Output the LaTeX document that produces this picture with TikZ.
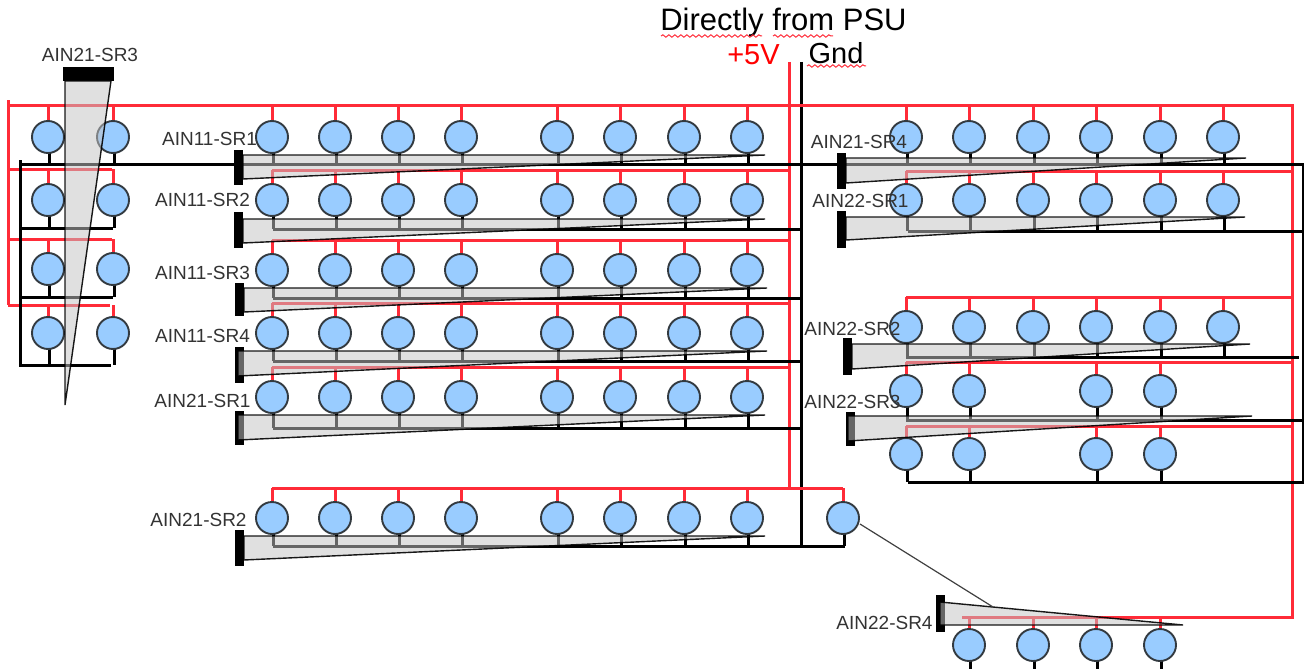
\documentclass[tikz,border=0pt]{standalone}
\usepackage{fontspec}
\setmainfont{Liberation Sans}
\usetikzlibrary{decorations.pathmorphing}
\definecolor{wirered}{HTML}{FF2B38}
\definecolor{ledblue}{HTML}{99CCFF}
\definecolor{ledline}{HTML}{333A40}
\definecolor{wedgegrey}{HTML}{C4C4C4}
\pgfdeclarelayer{wires}
\pgfsetlayers{wires,main}
\tikzset{
  led/.style={circle,draw=ledline,line width=1.9pt,fill=ledblue,minimum size=32pt,inner sep=0pt,outer sep=0pt},
  redw/.style={draw=wirered,line width=3pt},
  blkw/.style={draw=black,line width=3pt},
  wedge/.style={draw=black,line width=1.4pt,fill=wedgegrey,fill opacity=.52,draw opacity=.9},
  conn/.style={fill=black,draw=none},
  lab/.style={inner sep=0pt,font=\fontsize{19}{20}\selectfont,text=black!80},
  squig/.style={draw=wirered,line width=1pt,decorate,decoration={snake,amplitude=1.2pt,segment length=6pt}}
}
% prefix, xlist, circle y, red rail y, black rail y
\newcommand{\ledrow}[5]{%
  \foreach \xx [count=\ii] in {#2}{%
    \node[led] (#1\ii) at (\xx,#3) {};
    \begin{pgfonlayer}{wires}
      \draw[redw] (#1\ii.center) -- (#1\ii.center |- 0,#4);
      \draw[blkw] ([xshift=1pt]#1\ii.center) -- ([xshift=1pt]#1\ii.center |- 0,#5);
    \end{pgfonlayer}
  }%
}
% connector x, y0, y1; wedge start x, top y, tip x, bottom y, name
\newcommand{\ribbon}[8]{%
  \node[conn,minimum width=9pt,minimum height=#3pt-#2pt,inner sep=0pt,outer sep=0pt] (#8) at (#1+4.5,{(#2+#3)/2}) {};
  \path[wedge] (#4,#5) -- (#6,#5) -- (#4,#7) -- cycle;
}
\begin{document}
\begin{tikzpicture}[x=1pt,y=-1pt]
\useasboundingbox (0,0) rectangle (1304,669);

\begin{pgfonlayer}{wires}
  % power trunks
  \coordinate (redtop) at (789,62);
  \coordinate (gndtop) at (801,62);
  \draw[redw] (redtop) -- (789,488);
  \draw[blkw] (gndtop) -- (801,546);
  % left column red
  \draw[redw] (8,100) -- (8,305);
  \draw[redw] (8,105) -- (1292,105) -- (1292,617) -- (962,617);
  \draw[redw] (8,169) -- (112,169);
  \draw[redw] (8,239) -- (112,239);
  \draw[redw] (8,305) -- (110,305);
  % left column black
  \draw[blkw] (20,160) -- (20,365) -- (111,365);
  \draw[blkw] (20,228) -- (113,228);
  \draw[blkw] (20,297) -- (113,297);
  \draw[blkw] (20,164) -- (1303,164) -- (1303,482) -- (908,482);
  \draw[blkw] (1303,231) -- (908,231);
  % main block rails
  \draw[redw] (272,170) -- (790,170);
  \draw[redw] (272,240) -- (790,240);
  \draw[redw] (272,303) -- (790,303);
  \draw[redw] (272,367) -- (790,367);
  \draw[redw] (272,488) -- (843,488);
  \draw[blkw] (273,229) -- (801,229);
  \draw[blkw] (273,298) -- (801,298);
  \draw[blkw] (273,361) -- (801,361);
  \draw[blkw] (273,428) -- (801,428);
  \draw[blkw] (273,546) -- (845,546);
  % right block rails
  \draw[redw] (906,171) -- (1292,171);
  \draw[redw] (906,297) -- (1292,297);
  \draw[redw] (906,362) -- (1292,362);
  \draw[redw] (906,426) -- (1292,426);
  \draw[blkw] (906,357) -- (1299,357);
  \draw[blkw] (906,420) -- (1303,420);
\end{pgfonlayer}

% LEDs: left column
\ledrow{la}{48,113}{137}{105}{164}
\ledrow{lb}{48,113}{200}{169}{228}
\ledrow{lc}{48,113}{269}{239}{297}
\ledrow{ld}{48,113}{333}{305}{365}
% LEDs: main block
\ledrow{ma}{272,335,398,461,557,620,684,747}{137}{105}{164}
\ledrow{mb}{272,335,398,461,557,620,684,747}{200}{170}{229}
\ledrow{mc}{272,335,398,461,557,620,684,747}{270}{240}{298}
\ledrow{md}{272,335,398,461,557,620,684,747}{333}{303}{361}
\ledrow{me}{272,335,398,461,557,620,684,747}{397}{367}{428}
\ledrow{mf}{272,335,398,461,557,620,684,747,843}{518}{488}{546}
% LEDs: right block
\ledrow{ra}{906,969,1033,1096,1160,1223}{137}{105}{164}
\ledrow{rb}{906,969,1033,1096,1160,1223}{200}{171}{231}
\ledrow{rc}{906,969,1033,1096,1160,1223}{327}{297}{357}
\ledrow{rd}{906,969,1096,1160}{391}{362}{420}
\ledrow{re}{906,969,1096,1160}{454}{426}{482}
\ledrow{rf}{969,1033,1096,1160}{645}{617}{669}

% ribbons
\node[conn,minimum width=51pt,minimum height=14pt,inner sep=0pt,outer sep=0pt] (c213) at (88.5,74) {};
\path[wedge] (65,81) -- (111,81) -- (65,405) -- cycle;
\ribbon{234}{150}{185}{243}{155}{765}{179}{c111}
\ribbon{234}{212}{248}{243}{219}{765}{243}{c112}
\ribbon{235}{283}{316}{244}{288}{767}{312}{c113}
\ribbon{235}{347}{383}{238}{351}{767}{376}{c114}
\ribbon{235}{411}{445}{238}{415}{765}{440}{c211}
\ribbon{235}{530}{566}{244}{536}{765}{560}{c212}
\ribbon{837}{153}{189}{846}{158}{1246}{183}{c214}
\ribbon{837}{211}{248}{846}{217}{1245}{240}{c221}
\ribbon{843}{338}{375}{852}{344}{1250}{369}{c222}
\ribbon{846}{412}{446}{848}{416}{1252}{441}{c223}
\node[conn,minimum width=9pt,minimum height=37pt,inner sep=0pt,outer sep=0pt] (c224) at (940.5,613.5) {};
\path[wedge] (940,602) -- (1183,625) -- (940,625) -- cycle;
\coordinate (thinend) at (993,607);
\draw[line width=1.2pt,draw=black!75] (mf9) ++(17,6) coordinate (thinstart) -- (thinend);

% labels
\node[lab] (t213) at (90,55) {AIN21-SR3};
\node[lab] (t111) at (209.5,139) {AIN11-SR1};
\node[lab] (t112) at (202.5,200) {AIN11-SR2};
\node[lab] (t113) at (202.5,273) {AIN11-SR3};
\node[lab] (t114) at (202.5,336) {AIN11-SR4};
\node[lab] (t211) at (202.5,401) {AIN21-SR1};
\node[lab] (t212) at (198.5,520) {AIN21-SR2};
\node[lab] (t214) at (859,142) {AIN21-SR4};
\node[lab] (t221) at (860.5,201) {AIN22-SR1};
\node[lab] (t222) at (852.5,329) {AIN22-SR2};
\node[lab] (t223) at (852.5,402) {AIN22-SR3};
\node[lab] (t224) at (884.5,623) {AIN22-SR4};

\node[inner sep=0pt,font=\fontsize{31}{32}\selectfont] (psu) at (783.5,22) {Directly from PSU};
\node[inner sep=0pt,font=\fontsize{29}{30}\selectfont,text=red] (pv) at (753.5,55) {+5V};
\node[inner sep=0pt,font=\fontsize{29}{30}\selectfont] (gnd) at (836,53) {Gnd};
\path[squig] (661,36) -- (762,36);
\path[squig] (773,36) -- (833,36);
\path[squig] (807,66) -- (866,66);
\end{tikzpicture}
\end{document}
